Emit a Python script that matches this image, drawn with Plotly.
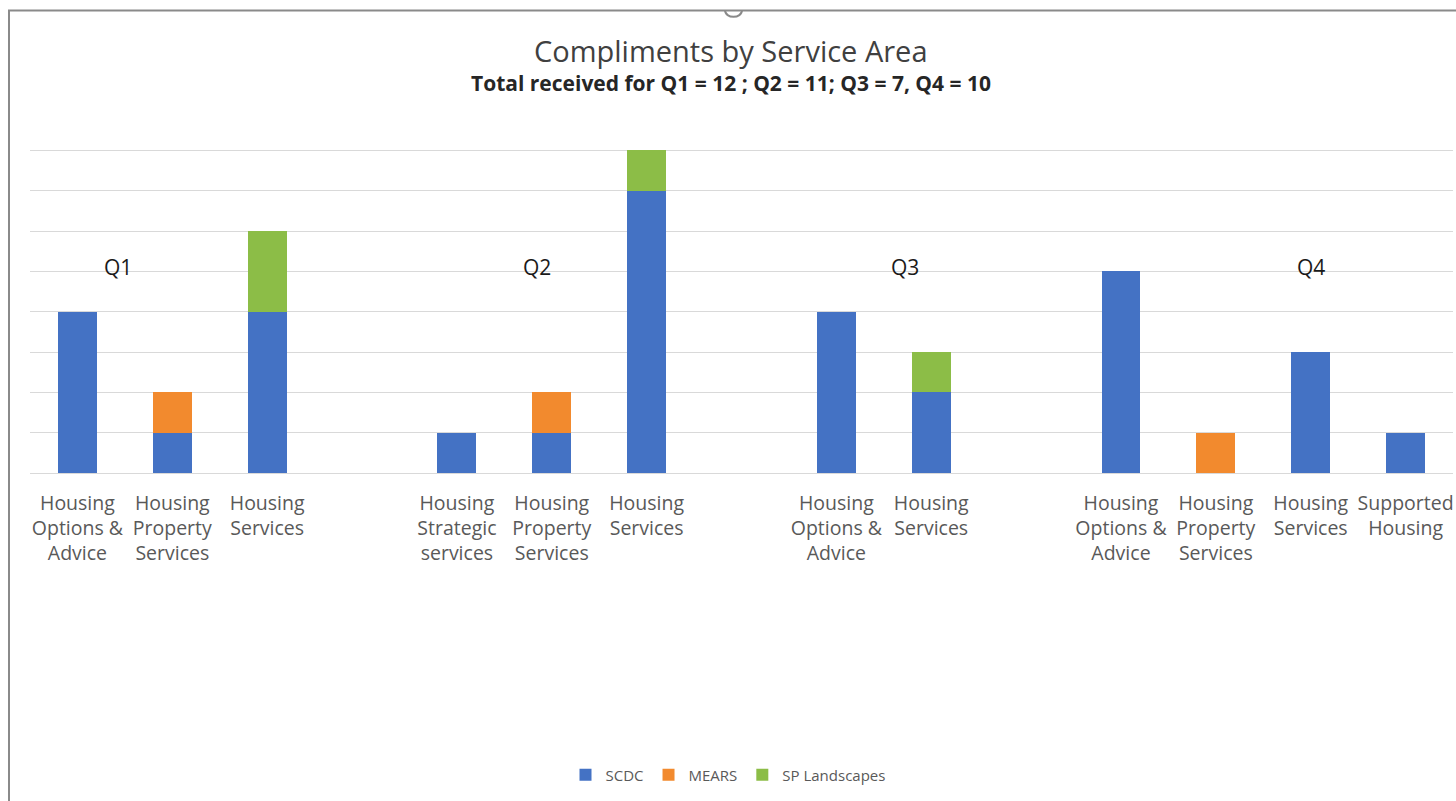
import textwrap
import plotly.graph_objects as go

# Compliments per service area, grouped by quarter
quarters = ["Q1", "Q2", "Q3", "Q4"]
services = [
    ["Housing Options & Advice", "Housing Property Services", "Housing Services"],
    ["Housing Strategic services", "Housing Property Services", "Housing Services"],
    ["Housing Options & Advice", "Housing Services"],
    ["Housing Options & Advice", "Housing Property Services", "Housing Services", "Supported Housing"],
]
scdc = [[4, 1, 4], [1, 1, 7], [4, 2], [5, 0, 3, 1]]
mears = [[0, 1, 0], [0, 1, 0], [0, 0], [0, 1, 0, 0]]
sp_landscapes = [[0, 0, 2], [0, 0, 1], [0, 1], [0, 0, 0, 0]]

series_names = ["SCDC", "MEARS", "SP Landscapes"]
series_colors = ["#4472C4", "#F28A2E", "#8CBD47"]

title_text = "Compliments by Service Area"
subtitle_text = "Total received for Q1 = 12 ; Q2 = 11; Q3 = 7, Q4 = 10"

# Lay the bars out on slots, leaving one empty slot between quarters
slots, labels = [], []
flat = {name: [] for name in series_names}
slot = 0
for qi, svc_list in enumerate(services):
    for si, svc in enumerate(svc_list):
        slots.append(slot)
        labels.append("<br>".join(textwrap.wrap(svc, 10)))
        flat["SCDC"].append(scdc[qi][si])
        flat["MEARS"].append(mears[qi][si])
        flat["SP Landscapes"].append(sp_landscapes[qi][si])
        slot += 1
    slot += 1
n_slots = slot - 1

fig = go.Figure()
for name, color in zip(series_names, series_colors):
    fig.add_trace(go.Bar(
        x=slots, y=flat[name], name=name, width=0.41,
        marker=dict(color=color, line=dict(width=0)),
    ))

W, H = 1456, 801
ml, mr, mt, mb = 30, 3, 110, 328
pw, ph = W - ml - mr, H - mt - mb

def px_x(x):
    return (x - ml) / pw

def px_y(y):
    return (H - mb - y) / ph

annotations = [
    dict(text=title_text, x=px_x(731), y=px_y(50), xref="paper", yref="paper",
         showarrow=False, xanchor="center", yanchor="middle",
         font=dict(family="Open Sans", size=29, color="#404040")),
    dict(text="<b>" + subtitle_text + "</b>", x=px_x(731), y=px_y(83),
         xref="paper", yref="paper", showarrow=False,
         xanchor="center", yanchor="middle",
         font=dict(family="Open Sans", size=21, color="#262626")),
]
# Quarter labels floating above each group
q_label_x = [0.43, 4.84, 8.72, 13.0]
for q, qx in zip(quarters, q_label_x):
    annotations.append(dict(text=q, x=qx, y=5.1, xref="x", yref="y",
                            showarrow=False, xanchor="center", yanchor="middle",
                            font=dict(family="Open Sans", size=21, color="#1a1a1a")))

# Outer chart frame (left and top edges visible) with its selection handle
frame_shapes = [
    dict(type="path", xref="paper", yref="paper",
         path=(f"M {px_x(9)},{px_y(830)} L {px_x(9)},{px_y(10.5)} "
               f"L {px_x(1456)},{px_y(10.5)}"),
         line=dict(color="#8a8a8a", width=2), layer="above"),
    dict(type="path", xref="paper", yref="paper",
         path=(f"M {px_x(725)},{px_y(10)} C {px_x(725)},{px_y(19)} "
               f"{px_x(742)},{px_y(19)} {px_x(742)},{px_y(10)}"),
         line=dict(color="#8a8a8a", width=2)),
]

fig.update_layout(
    width=W, height=H,
    margin=dict(l=ml, r=mr, t=mt, b=mb, pad=0),
    barmode="stack",
    paper_bgcolor="white", plot_bgcolor="white",
    font=dict(family="Open Sans", color="#595959"),
    showlegend=True,
    legend=dict(orientation="h", x=0.5, xanchor="center",
                xref="container", yref="container", y=1 - 775 / H, yanchor="middle",
                font=dict(size=15, color="#595959"), itemwidth=30,
                traceorder="normal"),
    annotations=annotations,
    shapes=frame_shapes,
)
fig.update_xaxes(
    range=[-0.5, n_slots - 0.5], tickmode="array", tickvals=slots, ticktext=labels,
    tickfont=dict(size=19.5, color="#595959"), ticks="", showgrid=False,
    showline=False, zeroline=False, ticklabelstandoff=16,
)
fig.update_yaxes(
    range=[0, 9], dtick=1, showticklabels=False, ticks="",
    showgrid=True, gridcolor="#d9d9d9", gridwidth=1,
    zeroline=True, zerolinecolor="#d9d9d9", zerolinewidth=1, showline=False,
)

fig.write_html("out.html")
